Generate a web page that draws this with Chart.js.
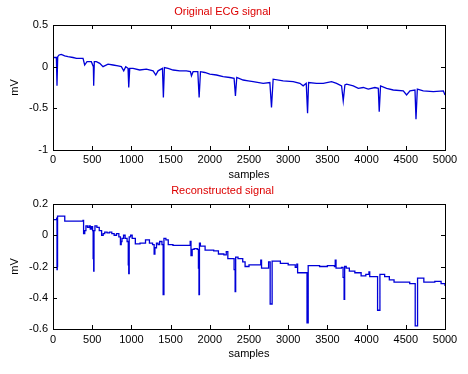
<!DOCTYPE html>
<html><head><meta charset="utf-8">
<script src="https://cdn.jsdelivr.net/npm/chart.js@4/dist/chart.umd.min.js"></script>
<style>
html,body{margin:0;padding:0;background:#fff;width:468px;height:374px;overflow:hidden}
.box{position:absolute;left:0;width:468px}
</style></head><body>
<div class="box" style="top:0;height:187px"><canvas id="c1" width="468" height="187"></canvas></div>
<div class="box" style="top:184px;height:190px"><canvas id="c2" width="468" height="190"></canvas></div>
<script>
// ---- data ----
const xTicks = [0,500,1000,1500,2000,2500,3000,3500,4000,4500,5000];
const origYTicks = [0.5,0,-0.5,-1];
const reconYTicks = [0.2,0,-0.2,-0.4,-0.6];

const origSamples = [0,21,43,51,60,77,106,149,191,255,300,340,383,404,434,489,515,519,527,553,596,638,702,766,830,872,902,928,957,966,979,1021,1106,1191,1277,1311,1340,1396,1408,1421,1468,1532,1617,1702,1753,1766,1787,1847,1864,1881,1936,2000,2085,2170,2255,2310,2327,2344,2425,2489,2553,2681,2766,2787,2808,2936,3064,3149,3191,3230,3247,3260,3362,3447,3553,3617,3681,3702,3723,3745,3830,3894,3957,4021,4106,4149,4161,4178,4255,4340,4468,4510,4553,4617,4630,4647,4723,4851,4979,5000];
const origValues  = [0.112,0.11,0.11,-0.23,0.12,0.14,0.148,0.13,0.12,0.11,0.1,0.1,0.1,0.02,0.06,0.06,0.0,-0.23,0.06,0.06,0.04,0.0,0.03,0.02,0.01,0.0,-0.05,0.0,-0.02,-0.25,-0.02,-0.02,-0.04,-0.03,-0.05,-0.1,-0.05,-0.02,-0.37,-0.01,-0.02,-0.04,-0.05,-0.05,-0.06,-0.11,-0.06,-0.06,-0.37,-0.06,-0.07,-0.09,-0.1,-0.12,-0.13,-0.14,-0.35,-0.13,-0.16,-0.17,-0.18,-0.2,-0.19,-0.49,-0.15,-0.17,-0.18,-0.2,-0.23,-0.2,-0.56,-0.19,-0.2,-0.2,-0.18,-0.2,-0.23,-0.41,-0.22,-0.21,-0.23,-0.26,-0.25,-0.27,-0.25,-0.26,-0.54,-0.23,-0.26,-0.28,-0.29,-0.34,-0.29,-0.28,-0.63,-0.27,-0.29,-0.3,-0.29,-0.34];

const reconSamples = [0,47,51,54,58,150,370,383,390,405,420,440,460,475,490,505,512,519,523,535,560,590,620,640,660,690,720,750,780,810,840,860,870,880,900,920,945,960,966,972,990,1010,1050,1110,1180,1230,1270,1290,1300,1320,1340,1360,1390,1405,1415,1440,1470,1530,1620,1700,1750,1760,1775,1800,1840,1855,1862,1868,1880,1940,2050,2110,2180,2210,2230,2290,2310,2323,2330,2360,2420,2450,2500,2630,2650,2660,2700,2750,2770,2795,2900,3000,3090,3110,3120,3230,3240,3255,3400,3500,3590,3600,3610,3680,3700,3713,3720,3740,3780,3850,3930,3990,4030,4040,4110,4140,4170,4230,4290,4350,4480,4550,4620,4650,4730,4870,4950,5000];
const reconValues  = [0.10,0.11,-0.22,-0.20,0.123,0.09,0.09,0.095,0.01,0.03,0.06,0.05,0.06,0.04,0.055,0.03,-0.15,-0.23,0.03,0.06,0.05,0.03,0.0,0.01,0.02,0.015,0.02,0.01,0.0,0.01,-0.01,-0.06,-0.04,-0.02,0.0,-0.02,-0.04,-0.19,-0.245,-0.01,0.0,-0.02,-0.055,-0.05,-0.03,-0.05,-0.06,-0.12,-0.08,-0.05,-0.06,-0.04,-0.06,-0.38,-0.02,-0.03,-0.06,-0.065,-0.065,-0.065,-0.04,-0.13,-0.09,-0.085,-0.09,-0.21,-0.38,-0.05,-0.07,-0.095,-0.1,-0.12,-0.125,-0.105,-0.15,-0.15,-0.22,-0.36,-0.14,-0.15,-0.17,-0.2,-0.19,-0.19,-0.16,-0.21,-0.21,-0.17,-0.44,-0.165,-0.18,-0.19,-0.205,-0.185,-0.24,-0.24,-0.56,-0.195,-0.2,-0.195,-0.2,-0.16,-0.21,-0.205,-0.27,-0.41,-0.2,-0.21,-0.23,-0.24,-0.26,-0.25,-0.235,-0.265,-0.265,-0.48,-0.25,-0.265,-0.285,-0.3,-0.3,-0.31,-0.58,-0.275,-0.3,-0.295,-0.31,-0.325];

const FONT = {family:'"Liberation Sans", Arial, sans-serif', size:11, weight:'normal'};

// inward ticks + box frame
const frame = {
  id:'frame',
  afterDatasetsDraw(chart){
    const {ctx, chartArea:a, scales} = chart;
    ctx.save();
    ctx.strokeStyle = '#000'; ctx.lineWidth = 1;
    ctx.beginPath();
    const L = 4;
    scales.x.ticks.forEach(t=>{
      const px = Math.round(scales.x.getPixelForValue(t.value))+0.5;
      ctx.moveTo(px,a.bottom); ctx.lineTo(px,a.bottom-L);
      ctx.moveTo(px,a.top); ctx.lineTo(px,a.top+L);
    });
    scales.y.ticks.forEach(t=>{
      const py = Math.round(scales.y.getPixelForValue(t.value))+0.5;
      ctx.moveTo(a.left,py); ctx.lineTo(a.left+L,py);
      ctx.moveTo(a.right,py); ctx.lineTo(a.right-L,py);
    });
    ctx.stroke();
    ctx.strokeRect(Math.round(a.left)+0.5, Math.round(a.top)+0.5, Math.round(a.right-a.left), Math.round(a.bottom-a.top));
    ctx.restore();
  }
};

function makeChart(id, title, xs, ys, yTicks, yMin, yMax, stepped, geom){
  const data = xs.map((x,i)=>({x:x, y:ys[i]}));
  return new Chart(document.getElementById(id), {
    type:'line',
    data:{datasets:[{data:data, borderColor:'#0000d8', borderWidth:1.3, pointRadius:0, tension:0, stepped:stepped}]},
    options:{
      responsive:false, animation:false, events:[],
      layout:{padding:{left:0,right:23,top:0,bottom:0}},
      plugins:{
        legend:{display:false}, tooltip:{enabled:false},
        title:{display:true, text:title, color:'#dd0000', font:FONT, padding:{top:geom.tTop,bottom:geom.tBot}}
      },
      scales:{
        x:{type:'linear', min:0, max:5000,
          afterBuildTicks(s){ s.ticks = xTicks.map(v=>({value:v})); },
          afterFit(s){ s.height = geom.xH; },
          ticks:{color:'#000', font:FONT, padding:geom.xPad, maxRotation:0, autoSkip:false,
            callback:(v)=>String(v)},
          grid:{display:false, drawTicks:false}, border:{display:false},
          title:{display:true, text:'samples', color:'#000', font:FONT, padding:{top:0,bottom:geom.xTitleB}}
        },
        y:{type:'linear', min:yMin, max:yMax,
          afterBuildTicks(s){ s.ticks = yTicks.map(v=>({value:v})); },
          afterFit(s){ s.width = 53; },
          ticks:{color:'#000', font:FONT, padding:5, autoSkip:false,
            callback:(v)=>String(Math.round(v*10)/10)},
          grid:{display:false, drawTicks:false}, border:{display:false},
          title:{display:true, text:'mV', color:'#000', font:FONT, padding:{top:8.4,bottom:0}}
        }
      }
    },
    plugins:[frame]
  });
}

makeChart('c1','Original ECG signal', origSamples, origValues, origYTicks, -1, 0.5, false,
  {tTop:5, tBot:6.8, xH:37, xPad:3, xTitleB:5.4});
makeChart('c2','Reconstructed signal', reconSamples, reconValues, reconYTicks, -0.6, 0.2, true,
  {tTop:0.4, tBot:6.4, xH:45, xPad:4, xTitleB:13.4});
</script>
</body></html>
